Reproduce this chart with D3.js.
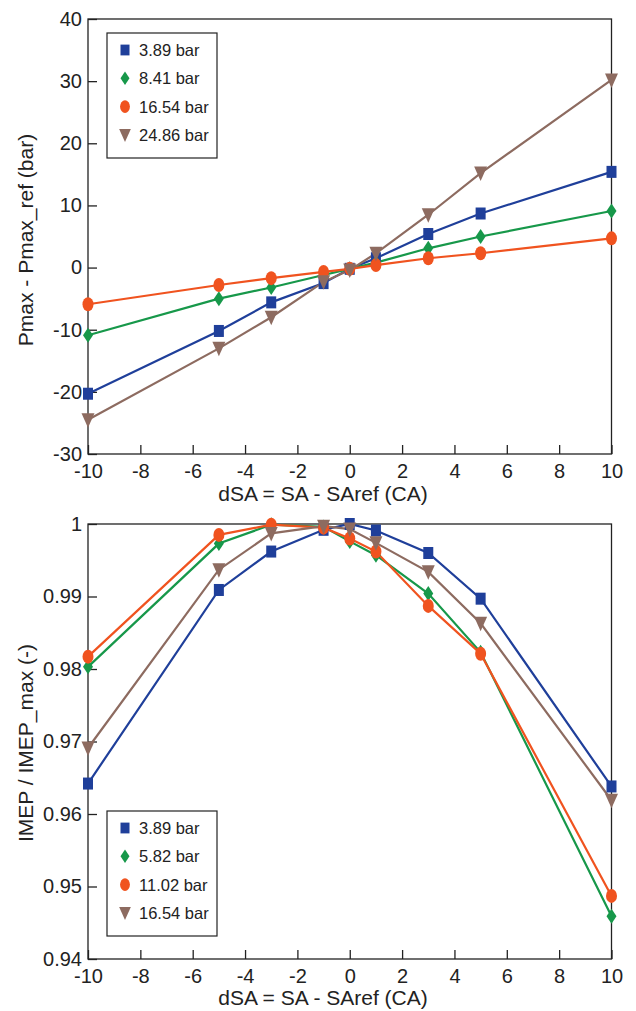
<!DOCTYPE html>
<html><head><meta charset="utf-8">
<script src="https://cdn.jsdelivr.net/npm/d3@7"></script>
<style>body{margin:0;background:#fff}svg{display:block}text{font-family:"Liberation Sans",Arial,sans-serif;fill:#222}</style>
</head><body><svg id="c" width="636" height="1011"></svg>
<script>
const dSA = [-10, -5, -3, -1, 0, 1, 3, 5, 10];
const xTicks = [-10, -8, -6, -4, -2, 0, 2, 4, 6, 8, 10];

// Top panel: Pmax - Pmax_ref (bar)
const topNames = ["3.89 bar", "8.41 bar", "16.54 bar", "24.86 bar"];
const top389  = [-20.3, -10.2, -5.6, -2.5, -0.2, 1.5, 5.4, 8.7, 15.4];
const top841  = [-10.9, -5.0, -3.2, -1.2, -0.2, 0.8, 3.1, 5.0, 9.1];
const top1654 = [-5.9, -2.8, -1.7, -0.7, -0.2, 0.4, 1.5, 2.3, 4.7];
const top2486 = [-24.5, -13.0, -8.0, -2.3, -0.4, 2.3, 8.5, 15.2, 30.2];
const topYTicks = [-30, -20, -10, 0, 10, 20, 30, 40];

// Bottom panel: IMEP / IMEP_max (-)
const botNames = ["3.89 bar", "5.82 bar", "11.02 bar", "16.54 bar"];
const bot389  = [0.9642, 0.9909, 0.9962, 0.9992, 1.0000, 0.9991, 0.9960, 0.9897, 0.9638];
const bot582  = [0.9803, 0.9973, 0.9999, 0.9996, 0.9976, 0.9957, 0.9904, 0.9823, 0.9459];
const bot1102 = [0.9817, 0.9985, 0.9999, 0.9995, 0.9980, 0.9962, 0.9887, 0.9821, 0.9487];
const bot1654 = [0.9691, 0.9937, 0.9987, 0.9997, 0.9993, 0.9974, 0.9934, 0.9863, 0.9619];
const botYTicks = [0.94, 0.95, 0.96, 0.97, 0.98, 0.99, 1];

const colors = ["#1f3f9a", "#17984a", "#f0531f", "#8d6b60"];
const shapes = ["square", "diamond", "ellipse", "tri"];

const svg = d3.select("#c");

function marker(g, shape, color, cx, cy, s) {
  if (shape === "square") {
    g.append("rect").attr("x", cx - 5*s).attr("y", cy - 6*s).attr("width", 10*s).attr("height", 12*s).attr("fill", color);
  } else if (shape === "diamond") {
    g.append("path").attr("d", `M${cx},${cy-7.5*s}L${cx+5*s},${cy}L${cx},${cy+7.5*s}L${cx-5*s},${cy}Z`).attr("fill", color);
  } else if (shape === "ellipse") {
    g.append("ellipse").attr("cx", cx).attr("cy", cy).attr("rx", 5.5*s).attr("ry", 7*s).attr("fill", color);
  } else {
    g.append("path").attr("d", `M${cx-6.5*s},${cy-6.5*s}L${cx+6.5*s},${cy-6.5*s}L${cx},${cy+8*s}Z`).attr("fill", color);
  }
}

function panel(o) {
  const x = d3.scaleLinear().domain([-10, 10]).range([88, 611.5]);
  const y = d3.scaleLinear().domain(o.ydom).range([o.bottom, o.top]);
  const g = svg.append("g");
  g.append("rect").attr("x", 88).attr("y", o.top).attr("width", 611.5 - 88).attr("height", o.bottom - o.top)
    .attr("fill", "none").attr("stroke", "#222").attr("stroke-width", 1.3);
  const xa = g.append("g").attr("transform", `translate(0,${o.bottom})`)
    .call(d3.axisBottom(x).tickValues(xTicks).tickSize(-9).tickFormat(d => String(d)));
  xa.select(".domain").remove();
  xa.selectAll("line").attr("stroke", "#222").attr("stroke-width", 1.3);
  xa.selectAll("text").attr("font-size", 20).attr("dy", null).attr("y", 24);
  const ya = g.append("g").attr("transform", `translate(88,0)`)
    .call(d3.axisLeft(y).tickValues(o.yticks).tickSize(-9).tickFormat(o.fmt));
  ya.select(".domain").remove();
  ya.selectAll("line").attr("stroke", "#222").attr("stroke-width", 1.3);
  ya.selectAll("text").attr("font-size", 20).attr("x", -6);
  g.append("text").attr("x", 323).attr("y", o.xlabY).attr("text-anchor", "middle").attr("font-size", 21)
    .text("dSA = SA - SAref (CA)");
  g.append("text").attr("transform", `translate(33,${o.ylabC}) rotate(-90)`)
    .attr("text-anchor", "middle").attr("font-size", 21).text(o.ylab);
  const line = d3.line().x((d, i) => x(dSA[i])).y(d => y(d));
  o.series.forEach((s, k) => {
    g.append("path").datum(s).attr("d", line).attr("fill", "none").attr("stroke", colors[k]).attr("stroke-width", 2.2);
  });
  o.series.forEach((s, k) => {
    const mg = g.append("g");
    s.forEach((v, i) => marker(mg, shapes[k], colors[k], x(dSA[i]), y(v), 1));
  });
  const lg = g.append("g");
  lg.append("rect").attr("x", 107).attr("y", o.legTop).attr("width", 110).attr("height", 125)
    .attr("fill", "#fff").attr("stroke", "#222").attr("stroke-width", 1.2);
  o.names.forEach((n, k) => {
    const cy = o.legTop + 17 + k * 28.3;
    marker(lg, shapes[k], colors[k], 125, cy, 0.9);
    lg.append("text").attr("x", 139).attr("y", cy + 6).attr("font-size", 16.5).text(n);
  });
}

panel({ top: 19, bottom: 454, ydom: [-30, 40], yticks: topYTicks, fmt: d => String(d),
  series: [top389, top841, top1654, top2486], names: topNames, legTop: 33,
  xlabY: 501, ylab: "Pmax - Pmax_ref (bar)", ylabC: 240 });
panel({ top: 524, bottom: 959, ydom: [0.94, 1], yticks: botYTicks, fmt: d => d === 1 ? "1" : d.toFixed(2),
  series: [bot389, bot582, bot1102, bot1654], names: botNames, legTop: 811,
  xlabY: 1005, ylab: "IMEP / IMEP_max (-)", ylabC: 743 });
</script></body></html>
